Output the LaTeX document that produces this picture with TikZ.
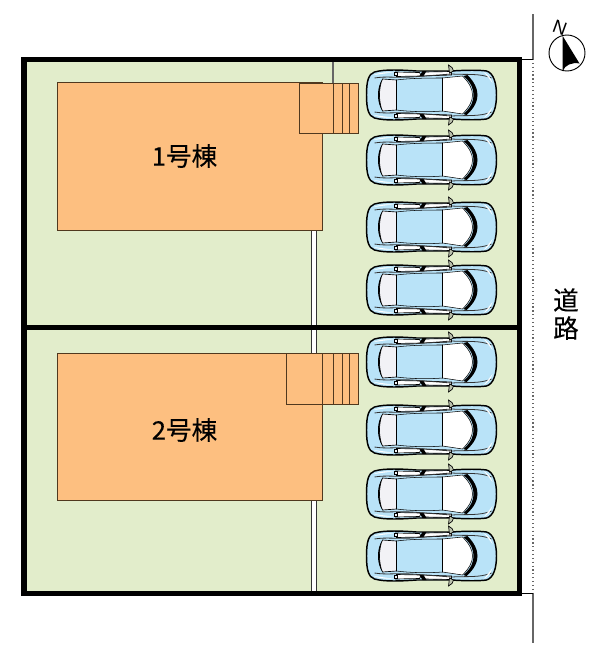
\documentclass[tikz,border=0pt]{standalone}
\usepackage{fontspec}
\newfontfamily\jpfont[FakeBold=0.25]{Noto Sans CJK JP}
\newfontfamily\northfont{Liberation Sans}
\definecolor{mlot}{RGB}{226,237,203}
\definecolor{mhouse}{RGB}{253,191,128}
\definecolor{mwall}{RGB}{80,56,30}
\definecolor{mglass}{RGB}{185,227,248}
\definecolor{mrear}{RGB}{242,242,246}
\tikzset{
  carbody/.style={draw=black, line width=1.1pt, fill=mglass},
  carline/.style={draw=black!80, line width=.6pt},
  car/.pic={
    % body
    \path[carbody] (-65,0) .. controls (-65,-14) and (-63,-21) .. (-57,-23) .. controls (-46,-26) and (-30,-25) .. (-15,-24) -- (20,-24) .. controls (35,-25) and (48,-25) .. (55,-24) .. controls (62,-22) and (65,-12) .. (65,0) .. controls (65,12) and (62,22) .. (55,24) .. controls (48,25) and (35,25) .. (20,24) -- (-15,24) .. controls (-30,25) and (-46,26) .. (-57,23) .. controls (-63,21) and (-65,14) .. (-65,0) -- cycle;
    % windows of the roof
    \path[draw=black, line width=.4pt, fill=mglass] (-35,-15) .. controls (-20,-17) and (0,-17) .. (11,-17) -- (11,16) .. controls (0,17) and (-20,17) .. (-35,15) -- cycle;
    \path[draw=black, line width=.5pt, fill=mrear] (-35,-15) -- (-49,-16) .. controls (-53,-8) and (-53,8) .. (-49,16) -- (-35,15) -- cycle;
    \path[fill=black] (-49,-16) .. controls (-53,-8) and (-53,8) .. (-49,16) .. controls (-55,8) and (-55,-8) .. (-49,-16) -- cycle;
    \path[draw=black, line width=.4pt, fill=white] (11,-17) -- (31,-19) .. controls (38,-12) and (41,-6) .. (41,0) .. controls (41,6) and (38,12) .. (31,19) -- (11,16) -- cycle;
    \path[fill=black] (32,-19) .. controls (40,-12) and (42,-6) .. (42,0) .. controls (42,6) and (40,12) .. (32,19) -- (35,20) .. controls (43,13) and (46,6) .. (46,0) .. controls (46,-6) and (43,-13) .. (36,-20) -- cycle;
    % the two sides are the same
    \foreach \side in {1,-1} {
      \begin{scope}[yscale=\side]
        \path[draw=black, line width=.5pt, fill=white] (-36,-23) -- (-12,-22.5) -- (-10,-19) -- (-35,-18.5) -- cycle;
        \path[draw=black, line width=.5pt, fill=white] (-7,-23) -- (20,-23.5) -- (20,-20) -- (-9,-19) -- cycle;
        \path[fill=black] (-12,-19) -- (-9,-24) -- (-5,-24) -- (-8,-19) -- cycle;
        \path[draw=black, line width=.4pt, fill=mrear] (-37,-22.5) rectangle (-34,-19.5);
        \path[draw=black, line width=.5pt, fill=mlot!60!gray] (17,-30) .. controls (20,-29) and (22,-26) .. (22,-24) -- (18,-22) -- cycle;
        \path[carline] (-57,-17) .. controls (-45,-19) and (-36,-17) .. (-20,-18) -- (20,-21) .. controls (35,-20) and (48,-22) .. (60,-17);
        \path[fill=white] (52,-23) .. controls (56,-21) and (59,-18) .. (61,-12) .. controls (58,-16) and (55,-20) .. (52,-23) -- cycle;
        \path[fill=white] (-58,-20) .. controls (-50,-23) and (-44,-23) .. (-38,-22.5) .. controls (-44,-22) and (-50,-21) .. (-58,-20) -- cycle;
      \end{scope}
    }
  },
}
\begin{document}
\begin{tikzpicture}[x=.75pt, y=-.75pt,
    frame/.style={draw=black, line width=3.8pt},
    lot/.style={fill=mlot},
    house/.style={draw=mwall, line width=.7pt, fill=mhouse},
    strip/.style={draw=black!80, line width=.7pt, fill=white},
    road/.style={draw=black!60, line width=.9pt},
    title/.style={font=\jpfont\fontsize{19.2}{19.2}\selectfont, inner sep=0pt},
]
\useasboundingbox (0,0) rectangle (613,657);

% the two lots
\path[lot] (24,60) rectangle (520,594);
\path[strip] (311,230) rectangle (316,353);
\path[strip] (311,500) rectangle (316,594);

% houses
\path[house] (57,82) rectangle (322,230);
\path[house] (57,353) rectangle (322,500);

% steps
\path[house] (299,83) rectangle (358,133);
\draw[road] (333,60) -- (333,83);
\foreach \stepx in {333,342,349} {
  \draw[draw=mwall, line width=.7pt] (\stepx,83) -- (\stepx,133);
}
\path[house] (286,353) rectangle (358,404);
\foreach \stepx in {322,333,342,349} {
  \draw[draw=mwall, line width=.7pt] (\stepx,353) -- (\stepx,404);
}

% frame
\draw[frame] (24,59.5) rectangle (519.7,593.5);
\draw[frame] (24,327.5) -- (519.7,327.5);

% cars
\foreach \cary in {95,160,227,290,362,430,494,556} {
  \pic at (431.5,\cary) {car};
}

% road line
\coordinate (roadtop) at (533,14);
\coordinate (roadupper) at (533,59);
\coordinate (roadlower) at (533,593);
\coordinate (roadend) at (533,643);
\draw[road] (roadtop) -- (roadupper);
\draw[road, dotted] (roadupper) -- (roadlower);
\draw[road] (roadlower) -- (roadend);
\draw[draw=black, line width=.5pt] (522,59) -- (roadupper);
\draw[draw=black, line width=.5pt] (522,593) -- (roadlower);

% north mark
\draw[black, line width=.7pt] (567,53) circle [radius=18];
\path[fill=black] (562.7,36) -- (579.5,63.5) .. controls (572,62) and (565,65) .. (562.7,71) -- cycle;
\node[font=\northfont\fontsize{14}{14}\selectfont, inner sep=0pt, rotate=-20] (north) at (560,28) {N};

% names
\node[title] (house1) at (184.5,156) {1号棟};
\node[title] (house2) at (184.5,430) {2号棟};
\node[title] (road1) at (566,300) {道};
\node[title] (road2) at (566,328) {路};
\end{tikzpicture}
\end{document}
